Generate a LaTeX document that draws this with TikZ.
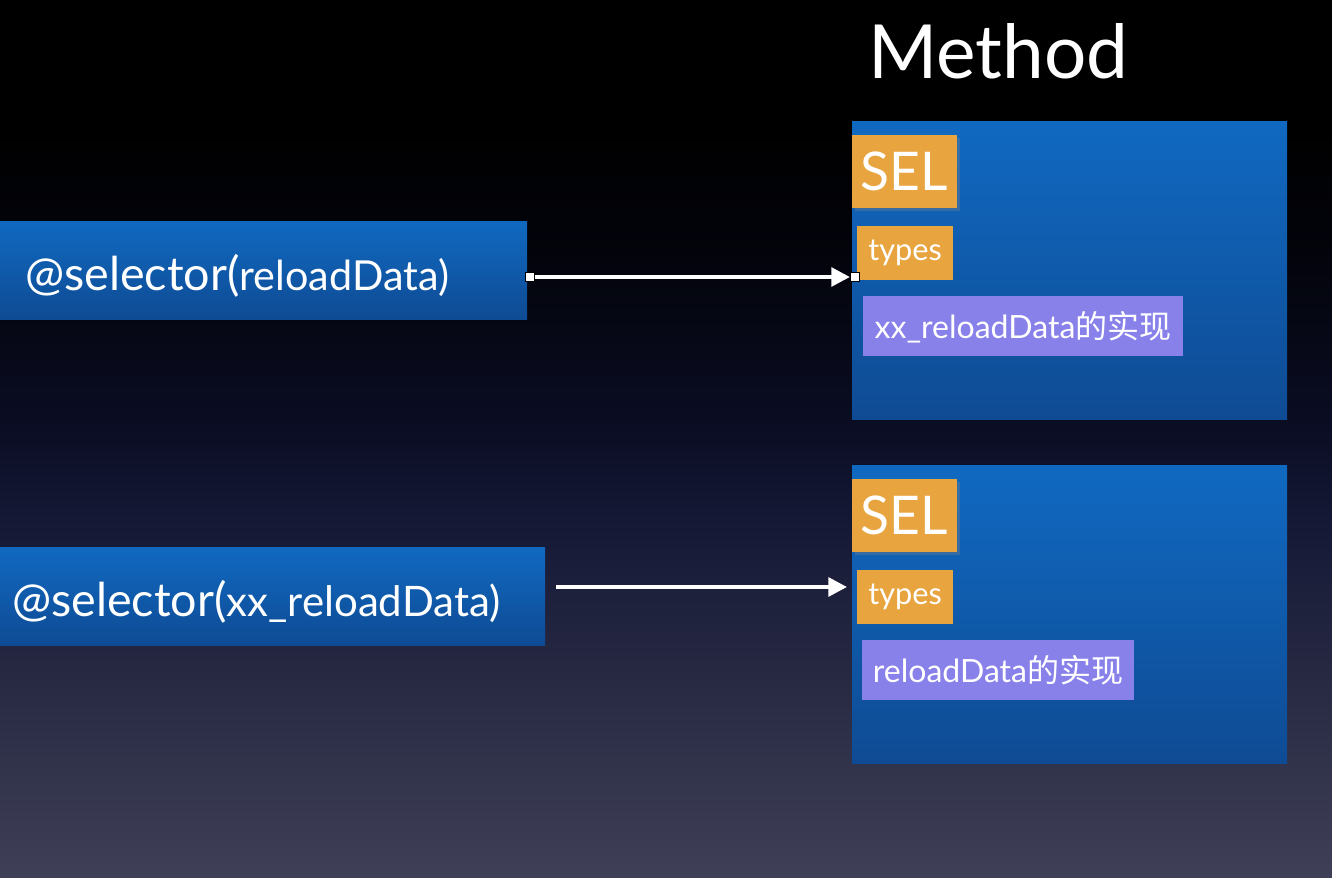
\documentclass[tikz,border=0pt]{standalone}
\usepackage{fontspec}
\setmainfont{Lato}
\newfontfamily\cjk{Noto Sans CJK SC}
\usetikzlibrary{arrows.meta,fit,shadows}
\definecolor{boxtop}{HTML}{1069C1}
\definecolor{boxbot}{HTML}{0F4B94}
\definecolor{selorange}{HTML}{E8A53F}
\definecolor{implpurple}{HTML}{8981EA}
\definecolor{bgA}{HTML}{3F4057}
\definecolor{bgB}{HTML}{2A2C45}
\definecolor{bgC}{HTML}{161936}
\definecolor{bgD}{HTML}{0B0E25}
\definecolor{bgE}{HTML}{03040C}
\pgfdeclareverticalshading{bgshade}{100bp}{color(0bp)=(bgA); color(25bp)=(bgA); color(35bp)=(bgB); color(45bp)=(bgC); color(50bp)=(bgD); color(60bp)=(bgE); color(68bp)=(black); color(100bp)=(black)}
\tikzset{
  bluebox/.style={inner sep=0pt, outer sep=0pt, top color=boxtop, bottom color=boxbot, draw=none},
  selbox/.style={inner sep=0pt, outer sep=0pt, fill=selorange, drop shadow={opacity=0.35, shadow xshift=2pt, shadow yshift=-2pt}},
  typebox/.style={inner sep=0pt, outer sep=0pt, fill=selorange},
  implbox/.style={inner sep=0pt, outer sep=0pt, fill=implpurple},
  seltxt/.style={anchor=base west, inner sep=0pt, text=white, font=\fontsize{35}{42}\selectfont},
  handle/.style={draw=black, fill=white, line width=0.6pt, minimum size=7pt, inner sep=0pt},
  arr/.style={draw=white, line width=3pt, -{Triangle[length=14pt, width=14pt]}}
}
\begin{document}
\begin{tikzpicture}[x=0.75pt, y=-0.75pt]
\useasboundingbox (0,0) rectangle (1332,878);
\shade[shading=bgshade] (0,0) rectangle (1332,878);

% title
\node[anchor=base west, inner sep=0pt, text=white, font=\fontsize{56}{67}\selectfont] (title) at (868,78) {Method};

% left boxes
\node[bluebox, fit={(0,221) (527,319)}] (lb1) {};
\node[seltxt] (lt1) at (25,290) {@selector(\fontsize{31}{37}\selectfont reloadData)};
\node[bluebox, fit={(0,547) (545,645)}] (lb2) {};
\node[seltxt] (lt2) at (12,616) {@selector(\fontsize{31.5}{38}\selectfont xx\_reloadData)};

% right method boxes
\node[bluebox, fit={(852,121) (1287,419)}] (m1) {};
\node[selbox, fit={(852,135) (957,208)}] (sel1) {};
\node[text=white, font=\fontsize{40}{48}\selectfont, inner sep=0pt] at (sel1.center) {SEL};
\node[typebox, fit={(857,226) (953,280)}] (ty1) {};
\node[text=white, font=\fontsize{23}{28}\selectfont, inner sep=0pt] at (ty1.center) {types};
\node[implbox, fit={(863,296) (1183,356)}] (im1) {};
\node[text=white, font=\fontsize{24}{29}\selectfont, inner sep=0pt, anchor=base] at (im1.center |- 0,338) {xx\_reloadData{\cjk 的实现}};

\node[bluebox, fit={(852,465) (1287,763)}] (m2) {};
\node[selbox, fit={(852,479) (957,552)}] (sel2) {};
\node[text=white, font=\fontsize{40}{48}\selectfont, inner sep=0pt] at (sel2.center) {SEL};
\node[typebox, fit={(857,570) (953,624)}] (ty2) {};
\node[text=white, font=\fontsize{23}{28}\selectfont, inner sep=0pt] at (ty2.center) {types};
\node[implbox, fit={(862,640) (1134,700)}] (im2) {};
\node[text=white, font=\fontsize{24}{29}\selectfont, inner sep=0pt, anchor=base] at (im2.center |- 0,682) {reloadData{\cjk 的实现}};

% arrows
\node[handle] (h1) at (530,277) {};
\node[handle] (h2) at (855,277) {};
\draw[arr] (h1) -- (h2);
\coordinate (a2s) at (556,587);
\coordinate (a2e) at (847,587);
\draw[arr] (a2s) -- (a2e);
\end{tikzpicture}
\end{document}
